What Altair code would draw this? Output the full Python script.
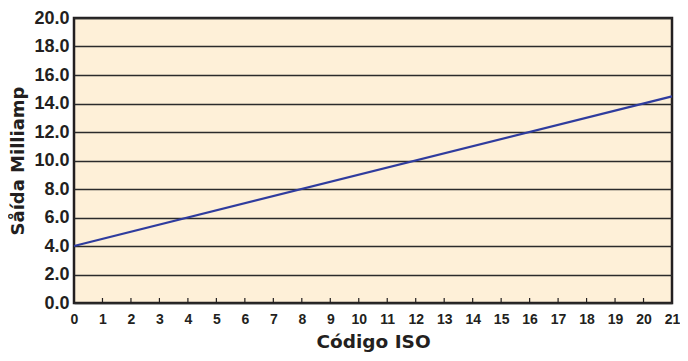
import altair as alt
import pandas as pd

iso_code = [0, 21]
milliamp = [4.0, 14.5]
x_ticks = list(range(0, 22))
y_ticks = [0, 2, 4, 6, 8, 10, 12, 14, 16, 18, 20]

line_df = pd.DataFrame({"x": iso_code, "y": milliamp})
tick_df = pd.DataFrame({"x": x_ticks[1:-1]})

FONT = "Liberation Sans"
TFONT = "DejaVu Sans"

xscale = alt.Scale(domain=[0, 21], nice=False, zero=False)
yscale = alt.Scale(domain=[0, 20], nice=False)

x_axis = alt.Axis(title="Código ISO", values=x_ticks, format="d",
                  grid=False, ticks=False, domain=False, labelOverlap=False,
                  labelFont=FONT, labelFontWeight="bold", labelFontSize=14,
                  labelColor="#231f20", labelPadding=9, labelFlush=False,
                  titleFont=TFONT, titleFontWeight="bold", titleFontSize=18.5,
                  titleColor="#231f20", titlePadding=6)

line = alt.Chart(line_df).mark_line(color="#2f3c9e", strokeWidth=2.2).encode(
    x=alt.X("x:Q", scale=xscale, axis=x_axis),
    y=alt.Y("y:Q", scale=yscale,
            axis=alt.Axis(title="Såída Milliamp", values=y_ticks, format=".1f",
                          grid=True, gridColor="#2b2b2b", gridWidth=1.5, gridOpacity=1,
                          ticks=False, domain=False, labelOverlap=False,
                          labelFont=FONT, labelFontWeight="bold", labelFontSize=18,
                          labelColor="#231f20", labelPadding=5, labelFlush=False,
                          titleFont=TFONT, titleFontWeight="bold", titleFontSize=18,
                          titleColor="#231f20", titlePadding=6)),
)

ticks = alt.Chart(tick_df).mark_rule(color="#231f20", strokeWidth=1.2).encode(
    x=alt.X("x:Q", scale=xscale, axis=x_axis),
    y=alt.value(285),
    y2=alt.value(280),
)

chart = alt.layer(line, ticks).properties(
    width=598, height=285,
    autosize=alt.AutoSizeParams(type="none"),
    padding={"left": 66, "top": 10, "right": 8, "bottom": 50},
).configure_view(
    fill="#fef0d8", stroke="#231f20", strokeWidth=2.5
)

chart.save("out.html", embed_options={"renderer": "svg", "actions": False})
